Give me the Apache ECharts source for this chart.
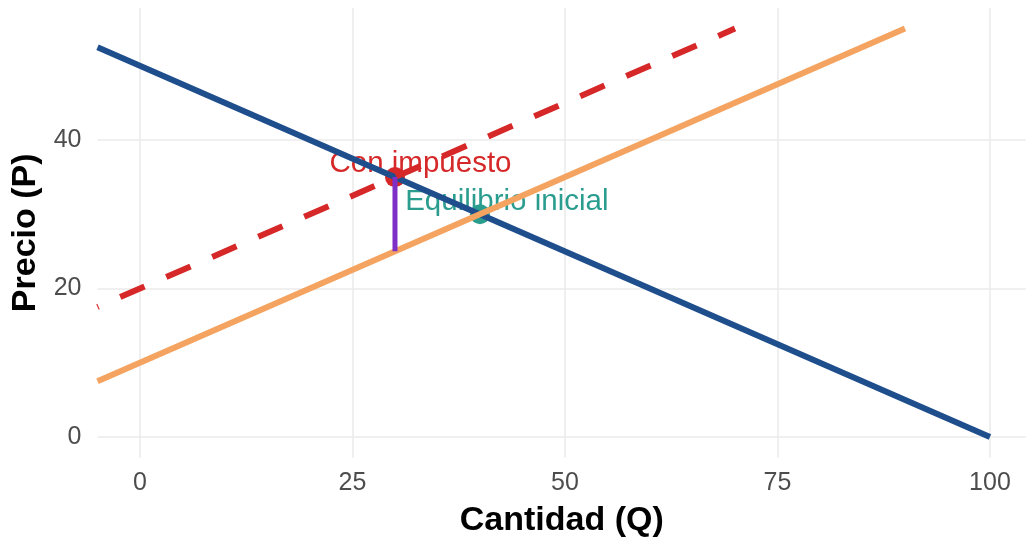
<!DOCTYPE html>
<html>
<head>
<meta charset="utf-8">
<script src="https://cdn.jsdelivr.net/npm/echarts@6/dist/echarts.min.js"></script>
<style>
html,body{margin:0;padding:0;background:#fff;}
#chart{width:1026px;height:541px;}
</style>
</head>
<body>
<div id="chart"></div>
<script>
// ---- data ----
const xTicks = [0, 25, 50, 75, 100];
const yTicks = [0, 20, 40];
const demandQ = [-5, 100];
const demandP = [52.5, 0];
const supplyQ = [-5, 90];
const supplyP = [7.5, 55];
const taxSupplyQ = [-5, 70];
const taxSupplyP = [17.5, 55];
const taxPoint = [30, 35];
const eqPoint = [40, 30];
const taxBarQ = [30, 30];
const taxBarP = [25, 35];
const labelTexts = ['Con impuesto', 'Equilibrio inicial'];
const labelQ = [33.0, 31.2];
const labelP = [36.8, 31.6];

const FONT = '"Liberation Sans", Arial, Helvetica, sans-serif';
const zip = (a, b) => a.map((v, i) => [v, b[i]]);

const chart = echarts.init(document.getElementById('chart'), null, {renderer: 'canvas'});
chart.setOption({
  animation: false,
  backgroundColor: '#ffffff',
  grid: {left: 97.5, right: 0, top: 8.2, bottom: 83.6, containLabel: false, outerBoundsMode: 'none'},
  xAxis: {
    type: 'value', min: -5, max: 104.24,
    name: 'Cantidad (Q)', nameLocation: 'middle', nameGap: 46,
    nameTextStyle: {fontFamily: FONT, fontSize: 34, fontWeight: 'bold', color: '#000'},
    axisLine: {show: false},
    axisTick: {show: false, customValues: xTicks},
    axisLabel: {customValues: xTicks, fontFamily: FONT, fontSize: 25, color: '#4d4d4d', margin: 13},
    splitLine: {show: true, lineStyle: {color: '#ebebeb', width: 1.6}}
  },
  yAxis: {
    type: 'value', min: -2.75, max: 57.75,
    name: 'Precio (P)', nameLocation: 'middle', nameGap: 52, nameRotate: 90,
    nameTextStyle: {fontFamily: FONT, fontSize: 34, fontWeight: 'bold', color: '#000'},
    axisLine: {show: false},
    axisTick: {show: false, customValues: yTicks},
    axisLabel: {customValues: yTicks, fontFamily: FONT, fontSize: 25, color: '#4d4d4d', margin: 16},
    splitLine: {show: true, lineStyle: {color: '#ebebeb', width: 1.6}}
  },
  series: [
    {type: 'line', data: zip(demandQ, demandP), showSymbol: false, silent: true,
     lineStyle: {color: '#1f4e8c', width: 6, cap: 'butt'}},
    {type: 'line', data: zip(supplyQ, supplyP), showSymbol: false, silent: true,
     lineStyle: {color: '#f4a460', width: 6, cap: 'butt'}},
    {type: 'line', data: zip(taxSupplyQ, taxSupplyP), showSymbol: false, silent: true,
     lineStyle: {color: '#d62828', width: 6, cap: 'butt', type: [26.5, 23.7], dashOffset: 25.4}},
    {type: 'scatter', data: [taxPoint], symbolSize: 20, silent: true,
     itemStyle: {color: '#d62828', opacity: 1}},
    {type: 'scatter', data: [eqPoint], symbolSize: 20, silent: true,
     itemStyle: {color: '#2a9d8f', opacity: 1}},
    {type: 'line', data: zip(taxBarQ, taxBarP), showSymbol: false, silent: true,
     lineStyle: {color: '#7d2fc8', width: 5, cap: 'butt'}},
    {type: 'scatter', symbolSize: 0, silent: true, itemStyle: {opacity: 1},
     data: labelTexts.map((t, i) => ({name: t, value: [labelQ[i], labelP[i]],
       label: {color: i === 0 ? '#d62828' : '#2a9d8f', align: i === 0 ? 'center' : 'left'}})),
     label: {show: true, position: 'inside', formatter: p => p.name,
       fontFamily: FONT, fontSize: 29.5, verticalAlign: 'middle', opacity: 1}}
  ]
});
</script>
</body>
</html>
